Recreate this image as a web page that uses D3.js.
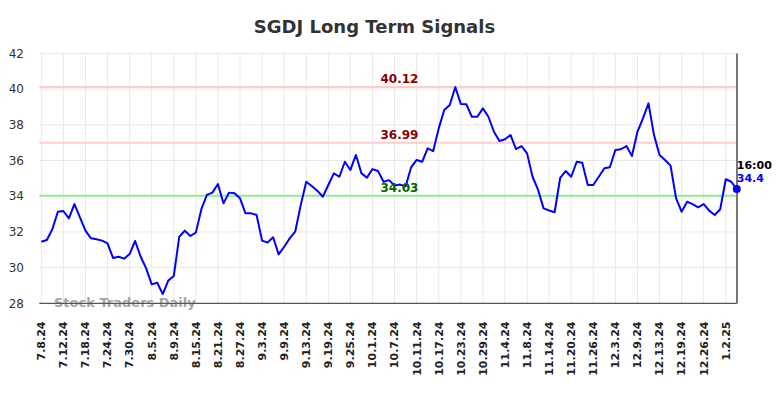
<!DOCTYPE html>
<html>
<head>
<meta charset="utf-8">
<script src="https://cdn.jsdelivr.net/npm/d3@7"></script>
<style>
  body { margin: 0; background: #fff; }
  svg { font-family: "DejaVu Sans", sans-serif; }
</style>
</head>
<body>
<div class="chart"></div>
<script>

// closing prices, one per trading day from 7.8.24 to 1.6.25
var prices = [31.45, 31.55, 32.15, 33.13, 33.17, 32.76, 33.56, 32.82, 32.07, 31.64,
  31.59, 31.51, 31.36, 30.54, 30.61, 30.5, 30.76, 31.49, 30.61, 29.96,
  29.06, 29.15, 28.52, 29.27, 29.53, 31.73, 32.07, 31.77, 31.96, 33.27,
  34.07, 34.2, 34.68, 33.6, 34.2, 34.16, 33.88, 33.04, 33.04, 32.95,
  31.51, 31.4, 31.7, 30.74, 31.17, 31.64, 32.01, 33.5, 34.81, 34.57,
  34.31, 33.97, 34.63, 35.28, 35.09, 35.93, 35.47, 36.31, 35.28, 35.04,
  35.52, 35.41, 34.81, 34.9, 34.6, 34.65, 34.55, 35.62, 36.03, 35.93,
  36.68, 36.53, 37.8, 38.83, 39.11, 40.12, 39.17, 39.15, 38.45, 38.45,
  38.92, 38.45, 37.61, 37.09, 37.19, 37.43, 36.64, 36.81, 36.4, 35.09,
  34.35, 33.32, 33.2, 33.1, 35.02, 35.41, 35.09, 35.93, 35.88, 34.63,
  34.63, 35.09, 35.56, 35.62, 36.59, 36.63, 36.81, 36.25, 37.61, 38.36,
  39.2, 37.43, 36.31, 36.03, 35.71, 33.88, 33.13, 33.69, 33.56, 33.38,
  33.56, 33.19, 32.95, 33.27, 34.95, 34.81, 34.4];

// a label every 4th trading day
var tickLabels = ["7.8.24", "7.12.24", "7.18.24", "7.24.24", "7.30.24", "8.5.24", "8.9.24",
  "8.15.24", "8.21.24", "8.27.24", "9.3.24", "9.9.24", "9.13.24", "9.19.24", "9.25.24",
  "10.1.24", "10.7.24", "10.11.24", "10.17.24", "10.23.24", "10.29.24", "11.4.24",
  "11.8.24", "11.14.24", "11.20.24", "11.26.24", "12.3.24", "12.9.24", "12.13.24",
  "12.19.24", "12.26.24", "1.2.25"];

var yTicks = [28, 30, 32, 34, 36, 38, 40, 42];

var signalLevels = [40.12, 36.99, 34.03];
var signalKinds = ["high", "high", "low"];

var lastTime = "16:00";

var width = 784, height = 398;
var plotL = 39.3, plotR = 737, plotT = 53.4, plotB = 303.3;

var svg = d3.select(".chart").append("svg")
    .attr("width", width)
    .attr("height", height);

var x = d3.scaleLinear().domain([0, prices.length - 1]).range([41.3, 736.8]);
var y = d3.scaleLinear().domain([28, 42]).range([plotB, plotT]);

// grid
svg.append("g").selectAll("line").data(yTicks).enter().append("line")
    .attr("x1", plotL).attr("x2", plotR)
    .attr("y1", function(d){ return y(d); })
    .attr("y2", function(d){ return y(d); })
    .attr("stroke", "#e8e8e8").attr("stroke-width", 1);

svg.append("g").selectAll("line").data(tickLabels).enter().append("line")
    .attr("x1", function(d, i){ return x(i * 4); })
    .attr("x2", function(d, i){ return x(i * 4); })
    .attr("y1", plotT).attr("y2", plotB)
    .attr("stroke", "#e8e8e8").attr("stroke-width", 1);

// y labels
svg.append("g").selectAll("text").data(yTicks).enter().append("text")
    .attr("x", 24)
    .attr("y", function(d){ return y(d); })
    .attr("dy", "0.35em")
    .attr("text-anchor", "end")
    .style("font-size", "12px")
    .style("fill", "#333")
    .text(function(d){ return d; });

// x labels
svg.append("g").selectAll("text").data(tickLabels).enter().append("text")
    .attr("transform", function(d, i){
        return "translate(" + x(i * 4) + "," + 321.5 + ") rotate(-90)";
    })
    .attr("dy", "0.35em")
    .attr("text-anchor", "end")
    .style("font-size", "11px")
    .style("font-weight", "bold")
    .style("fill", "#222")
    .text(function(d){ return d; });

// signal lines
svg.append("g").selectAll("line").data(signalLevels).enter().append("line")
    .attr("x1", plotL).attr("x2", plotR)
    .attr("y1", function(d){ return y(d); })
    .attr("y2", function(d){ return y(d); })
    .attr("stroke", function(d, i){ return signalKinds[i] == "high" ? "#ffcccc" : "#90ee90"; })
    .attr("stroke-width", 2);

// watermark
svg.append("text")
    .attr("x", 54).attr("y", 307)
    .style("font-size", "13px")
    .style("font-weight", "bold")
    .style("fill", "#999")
    .style("fill-opacity", 0.9)
    .text("Stock Traders Daily");

// axes frame
svg.append("line")
    .attr("x1", plotL).attr("x2", plotR)
    .attr("y1", plotB).attr("y2", plotB)
    .attr("stroke", "#555").attr("stroke-width", 1.2);
svg.append("line")
    .attr("x1", plotR).attr("x2", plotR)
    .attr("y1", plotT).attr("y2", plotB)
    .attr("stroke", "#777").attr("stroke-width", 2);

// price line
var line = d3.line()
    .x(function(d, i){ return x(i); })
    .y(function(d){ return y(d); });

svg.append("path")
    .datum(prices)
    .attr("d", line)
    .attr("fill", "none")
    .attr("stroke", "#0000ff")
    .attr("stroke-width", 2)
    .attr("stroke-linejoin", "round");

// signal labels
svg.append("g").selectAll("text").data(signalLevels).enter().append("text")
    .attr("x", 399.5)
    .attr("y", function(d){ return y(d) - 4; })
    .attr("text-anchor", "middle")
    .style("font-size", "12px")
    .style("font-weight", "bold")
    .style("fill", function(d, i){ return signalKinds[i] == "high" ? "#8b0000" : "#006400"; })
    .text(function(d){ return d.toFixed(2); });

// last point
var last = prices.length - 1;
svg.append("circle")
    .attr("cx", x(last)).attr("cy", y(prices[last]))
    .attr("r", 4)
    .attr("fill", "#0000ff");

svg.append("text")
    .attr("x", x(last)).attr("y", y(prices[last]) - 20)
    .style("font-size", "11px")
    .style("font-weight", "bold")
    .style("fill", "#000")
    .text(lastTime);

svg.append("text")
    .attr("x", x(last)).attr("y", y(prices[last]) - 7)
    .style("font-size", "11px")
    .style("font-weight", "bold")
    .style("fill", "#0000ff")
    .text(prices[last]);

// title
svg.append("text")
    .attr("x", 374.5).attr("y", 33)
    .attr("text-anchor", "middle")
    .style("font-size", "18px")
    .style("font-weight", "bold")
    .style("fill", "#333")
    .text("SGDJ Long Term Signals");

</script>
</body>
</html>
